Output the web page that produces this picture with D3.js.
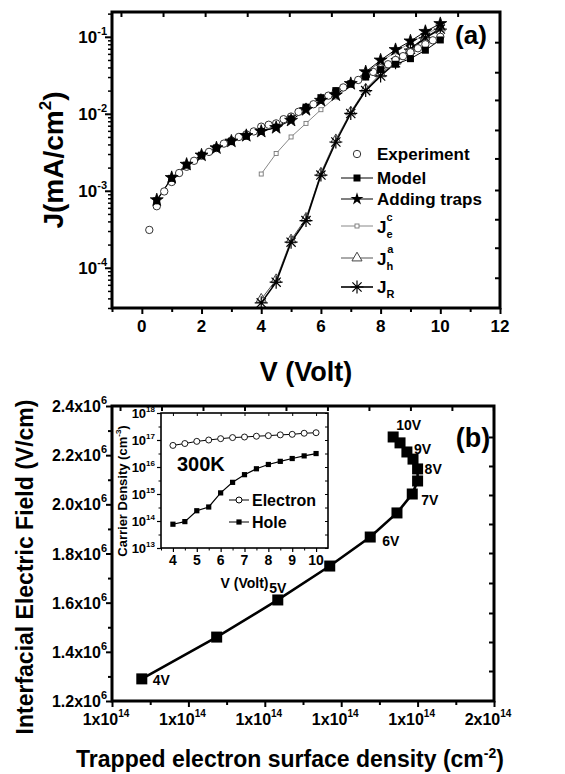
<!DOCTYPE html>
<html><head><meta charset="utf-8">
<script src="https://cdn.jsdelivr.net/npm/d3@7/dist/d3.min.js"></script>
<style>
body{margin:0;background:#fff}
svg{display:block}
text{font-family:"Liberation Sans",Arial,Helvetica,sans-serif;font-weight:bold;fill:#000}
</style></head><body>
<svg id="chart" width="565" height="774"></svg>
<script>
// ---------------- Panel (a) data ----------------
const vExp = [0.25,0.5,0.75,1,1.25,1.5,1.75,2,2.25,2.5,2.75,3,3.25,3.5,3.75,4,4.25,4.5,4.75,5,5.25,5.5,5.75,6,6.25,6.5,6.75,7,7.25,7.5,7.75,8,8.25,8.5,8.75,9,9.25,9.5,9.75,10];
const jExp = [3.1e-4,6.3e-4,9.8e-4,1.3e-3,1.7e-3,2.05e-3,2.45e-3,2.85e-3,3.2e-3,3.6e-3,4.1e-3,4.5e-3,5.0e-3,5.4e-3,5.9e-3,6.8e-3,7.2e-3,7.5e-3,8.5e-3,9.2e-3,1.06e-2,1.2e-2,1.33e-2,1.52e-2,1.72e-2,1.95e-2,2.2e-2,2.45e-2,2.75e-2,3.1e-2,3.5e-2,3.9e-2,4.4e-2,5.0e-2,5.6e-2,6.3e-2,7.1e-2,8.0e-2,9.0e-2,1.0e-1];
const vHalf = [0.5,1,1.5,2,2.5,3,3.5,4,4.5,5,5.5,6,6.5,7,7.5,8,8.5,9,9.5,10];
const jModel = [7.4e-4,1.45e-3,2.15e-3,2.9e-3,3.6e-3,4.35e-3,5.1e-3,5.9e-3,6.7e-3,8.6e-3,1.22e-2,1.62e-2,2.0e-2,2.45e-2,3.0e-2,3.75e-2,4.4e-2,5.2e-2,6.7e-2,9.1e-2];
const jTraps = [7.6e-4,1.48e-3,2.2e-3,2.9e-3,3.6e-3,4.4e-3,5.2e-3,5.9e-3,6.6e-3,8.2e-3,1.13e-2,1.49e-2,1.75e-2,2.46e-2,3.5e-2,4.97e-2,6.8e-2,8.8e-2,1.17e-1,1.48e-1];
const vHigh = [4,4.5,5,5.5,6,6.5,7,7.5,8,8.5,9,9.5,10];
const jEc = [1.65e-3,3.05e-3,5.0e-3,7.5e-3,1.13e-2,1.65e-2,2.34e-2,3.39e-2,4.72e-2,6.37e-2,8.35e-2,1.07e-1,1.35e-1];
const jHa = [3.9e-5,7.0e-5,2.3e-4,4.4e-4,1.7e-3,4.6e-3,1.06e-2,2.1e-2,3.3e-2,4.8e-2,7.1e-2,9.9e-2,1.3e-1];
const jR  = [3.5e-5,6.5e-5,2.15e-4,4.1e-4,1.6e-3,4.3e-3,1.01e-2,2.0e-2,3.1e-2,4.6e-2,6.9e-2,9.7e-2,1.26e-1];
const aXTicks = [0,2,4,6,8,10,12];
const aXTickLabels = ["0","2","4","6","8","10","12"];
const aXMinor = [-1,1,3,5,7,9,11];
const aYTicks = [1e-4,1e-3,1e-2,1e-1];
const aYTickSup = ["-4","-3","-2","-1"];
const aTopTicks = [-0.7,0.71,2.12,3.53,4.94,6.35,7.76,9.17,10.58];
const aRightTickExp = [-1.07,-1.46,-1.82,-2.21,-2.58,-2.99,-3.37,-3.74,-4.13];
const aLegend = ["Experiment","Model","Adding traps","J_e^c","J_h^a","J_R"];

// ---------------- Panel (b) data ----------------
const bVolt = [4,4.5,5,5.5,6,6.5,7,7.5,8,8.5,9,9.5,10];
const bDensity = [1.039,1.137,1.217,1.285,1.338,1.373,1.393,1.4,1.4,1.394,1.386,1.377,1.368]; // x1e14 cm^-2
const bField = [1.29,1.46,1.611,1.749,1.867,1.965,2.042,2.095,2.144,2.184,2.213,2.25,2.274]; // x1e6 V/cm
const bPointLabels = ["4V","5V","6V","7V","8V","9V","10V"];
const bXTicks = [1.0,1.1,1.2,1.3,1.4,1.5];
const bXTickBase = ["1x10","1x10","1x10","1x10","1x10","2x10"];
const bXMinor = [1.05,1.15,1.25,1.35,1.45];
const bYTicks = [1.2,1.4,1.6,1.8,2.0,2.2,2.4];
const bYTickBase = ["1.2x10","1.4x10","1.6x10","1.8x10","2.0x10","2.2x10","2.4x10"];
const bYMinor = [1.3,1.5,1.7,1.9,2.1,2.3];
const bTopTicks = [1.0105,1.0648,1.1191,1.1734,1.2277,1.282,1.3363,1.3906,1.4449,1.4992];
const bRightTicks = [2.274,2.156,2.038,1.92,1.802,1.68,1.558,1.44,1.322];

// ---------------- Inset data ----------------
const inV = [4,4.5,5,5.5,6,6.5,7,7.5,8,8.5,9,9.5,10];
const inElectron = [6.3e16,7.4e16,8.9e16,1.0e17,1.12e17,1.23e17,1.29e17,1.38e17,1.45e17,1.55e17,1.62e17,1.78e17,1.86e17];
const inHole = [7.6e13,9.5e13,2.4e14,3.3e14,1.1e15,2.7e15,5.2e15,8.6e15,1.24e16,1.62e16,2.06e16,2.58e16,3.15e16];
const inXTicks = [4,5,6,7,8,9,10];
const inXMinor = [3.5,4.5,5.5,6.5,7.5,8.5,9.5];
const inYTicks = [1e13,1e14,1e15,1e16,1e17,1e18];
const inYTickSup = ["13","14","15","16","17","18"];
const inYHalf = [3.16e13,3.16e14,3.16e15,3.16e16,3.16e17];

const svg = d3.select("#chart");

function ticks(gen, scale, vals, size, tx, ty, w){
  const g = svg.append("g").attr("transform",`translate(${tx},${ty})`)
    .call(gen(scale).tickValues(vals).tickSize(size).tickFormat(""));
  g.select(".domain").remove();
  g.selectAll("line").attr("stroke","#000").attr("stroke-width",w);
  return g;
}
function supText(x,y,base,sup,fs,ss,anchor,rise){
  const t = svg.append("text").attr("x",x).attr("y",y).attr("text-anchor",anchor).style("font-size",fs+"px");
  t.append("tspan").text(base);
  t.append("tspan").attr("dy",-rise).style("font-size",ss+"px").text(sup);
  return t;
}
function asterisk(r){
  const a = r*Math.SQRT1_2;
  return `M${-r},0L${r},0M0,${-r}L0,${r}M${-a},${-a}L${a},${a}M${-a},${a}L${a},${-a}`;
}

// ================= PANEL (a) =================
const A = {l:112,r:500,t:12,b:308};
const ax = d3.scaleLinear().domain([-1,12]).range([A.l,A.r]);
const ay = d3.scaleLog().domain([3.0e-5,0.21]).range([A.b,A.t]);

ticks(d3.axisBottom, ax, aXTicks, 6, 0, A.b, 2);
ticks(d3.axisBottom, ax, aXMinor, 4, 0, A.b, 2);
ticks(d3.axisTop, ax, aTopTicks, -5, 0, A.t, 2);
ticks(d3.axisLeft, ay, aYTicks, 7, A.l, 0, 2);
ticks(d3.axisLeft, ay, ay.ticks().filter(v=>!aYTicks.includes(v)), 4, A.l, 0, 1.5);
ticks(d3.axisRight, ay, aRightTickExp.map(e=>Math.pow(10,e)), -5, A.r, 0, 2);

aXTicks.forEach((v,i)=>svg.append("text").attr("x",ax(v)).attr("y",A.b+24).attr("text-anchor","middle").style("font-size","17px").text(aXTickLabels[i]));
aYTicks.forEach((v,i)=>supText(A.l-5,ay(v)+6,"10",aYTickSup[i],17,11,"end",8));

const lineA = (xs,ys)=>d3.line().x((d,i)=>ax(xs[i])).y(d=>ay(d))(ys);
const gA = svg.append("g");
gA.append("path").attr("d",lineA(vHigh,jEc)).attr("fill","none").attr("stroke","#888").attr("stroke-width",1);
gA.append("path").attr("d",lineA(vHigh,jHa)).attr("fill","none").attr("stroke","#555").attr("stroke-width",1);
gA.append("path").attr("d",lineA(vHigh,jR)).attr("fill","none").attr("stroke","#000").attr("stroke-width",1.6);
gA.append("path").attr("d",lineA(vHalf,jModel)).attr("fill","none").attr("stroke","#000").attr("stroke-width",1);
gA.append("path").attr("d",lineA(vHalf,jTraps)).attr("fill","none").attr("stroke","#000").attr("stroke-width",1);

const triPath = d3.symbol().type(d3.symbolTriangle).size(44)();
const starPath = d3.symbol().type(d3.symbolStar).size(52)();
gA.selectAll(".ec").data(jEc).join("rect").attr("x",(d,i)=>ax(vHigh[i])-2).attr("y",d=>ay(d)-2).attr("width",4).attr("height",4).attr("fill","#fff").attr("stroke","#777").attr("stroke-width",0.9);
gA.selectAll(".ha").data(jHa).join("path").attr("d",triPath).attr("transform",(d,i)=>`translate(${ax(vHigh[i])},${ay(d)})`).attr("fill","none").attr("stroke","#444").attr("stroke-width",1);
gA.selectAll(".jr").data(jR).join("path").attr("d",asterisk(6.5)).attr("transform",(d,i)=>`translate(${ax(vHigh[i])},${ay(d)})`).attr("fill","none").attr("stroke","#000").attr("stroke-width",1.2);
gA.selectAll(".ex").data(jExp).join("circle").attr("cx",(d,i)=>ax(vExp[i])).attr("cy",d=>ay(d)).attr("r",3.7).attr("fill","#fff").attr("stroke","#333").attr("stroke-width",1);
gA.selectAll(".md").data(jModel).join("rect").attr("x",(d,i)=>ax(vHalf[i])-3.5).attr("y",d=>ay(d)-3.5).attr("width",7).attr("height",7).attr("fill","#000");
gA.selectAll(".tr").data(jTraps).join("path").attr("d",starPath).attr("transform",(d,i)=>`translate(${ax(vHalf[i])},${ay(d)})`).attr("fill","#000").attr("stroke","#000").attr("stroke-width",0.8);

svg.append("rect").attr("x",A.l).attr("y",A.t).attr("width",A.r-A.l).attr("height",A.b-A.t).attr("fill","none").attr("stroke","#000").attr("stroke-width",3);

// legend (a)
const legY = [154,178,199,226,258,287];
const legBase = [160,184,205,233,265,293];
const lx0 = 341, lx1 = 373, lxm = 357, ltx = 377;
[[1,"#000"],[2,"#000"],[3,"#888"],[4,"#555"],[5,"#000"]].forEach(([k,c])=>{
  svg.append("line").attr("x1",lx0).attr("x2",lx1).attr("y1",legY[k]).attr("y2",legY[k]).attr("stroke",c).attr("stroke-width",k===5?1.6:1);
});
svg.append("circle").attr("cx",lxm).attr("cy",legY[0]).attr("r",3.7).attr("fill","#fff").attr("stroke","#333");
svg.append("rect").attr("x",lxm-3.5).attr("y",legY[1]-3.5).attr("width",7).attr("height",7).attr("fill","#000");
svg.append("path").attr("d",starPath).attr("transform",`translate(${lxm},${legY[2]})`).attr("fill","#000");
svg.append("rect").attr("x",lxm-2).attr("y",legY[3]-2).attr("width",4).attr("height",4).attr("fill","#fff").attr("stroke","#777").attr("stroke-width",0.9);
svg.append("path").attr("d",triPath).attr("transform",`translate(${lxm},${legY[4]})`).attr("fill","#fff").attr("stroke","#444");
svg.append("path").attr("d",asterisk(6.5)).attr("transform",`translate(${lxm},${legY[5]})`).attr("fill","none").attr("stroke","#000").attr("stroke-width",1.2);
aLegend.forEach((s,i)=>{
  const t = svg.append("text").attr("x",ltx).attr("y",legBase[i]).style("font-size","17px");
  const m = s.match(/^J_(\w)(?:\^(\w))?$/);
  if(!m){ t.text(s); return; }
  t.append("tspan").text("J");
  t.append("tspan").attr("dy",5).style("font-size","11px").text(m[1]);
  if(m[2]) t.append("tspan").attr("dx",-6).attr("dy",-17).style("font-size","11px").text(m[2]);
});

svg.append("text").attr("x",471).attr("y",44).attr("text-anchor","middle").style("font-size","26px").text("(a)");
svg.append("text").attr("x",(A.l+A.r)/2).attr("y",381).attr("text-anchor","middle").style("font-size","27px").text("V (Volt)");
{
  const t = svg.append("text").attr("transform","translate(63,160) rotate(-90)").attr("text-anchor","middle").style("font-size","28px");
  t.append("tspan").text("J(mA/cm");
  t.append("tspan").attr("dy",-12).style("font-size","17px").text("2");
  t.append("tspan").attr("dy",12).text(")");
}

// ================= PANEL (b) =================
const B = {l:112,r:494,t:406,b:701};
const bx = d3.scaleLinear().domain([1.0,1.5]).range([B.l,B.r]);
const by = d3.scaleLinear().domain([1.2,2.4]).range([B.b,B.t]);

ticks(d3.axisBottom, bx, bXTicks, 6, 0, B.b, 2);
ticks(d3.axisBottom, bx, bXMinor, 4, 0, B.b, 2);
ticks(d3.axisTop, bx, bTopTicks, -5, 0, B.t, 2);
ticks(d3.axisLeft, by, bYTicks, 6, B.l, 0, 2);
ticks(d3.axisLeft, by, bYMinor, 4, B.l, 0, 2);
ticks(d3.axisRight, by, bRightTicks, -5, B.r, 0, 2);

bXTicks.forEach((v,i)=>supText(bx(v)-6,B.b+24,bXTickBase[i],"14",16,10,"middle",8));
bYTicks.forEach((v,i)=>supText(B.l-5,by(v)+6,bYTickBase[i],"6",16,11,"end",8));

// ---- inset ----
const I = {l:161,r:328,t:413,b:548};
const ix = d3.scaleLinear().domain([3.5,10.5]).range([I.l,I.r]);
const iy = d3.scaleLog().domain([1e13,1e18]).range([I.b,I.t]);
ticks(d3.axisBottom, ix, inXTicks, 4, 0, I.b, 1.2);
ticks(d3.axisBottom, ix, inXMinor, 2.5, 0, I.b, 1);
ticks(d3.axisTop, ix, inXTicks, -3, 0, I.t, 1);
ticks(d3.axisLeft, iy, inYTicks, 4, I.l, 0, 1.2);
ticks(d3.axisLeft, iy, inYHalf, 2.5, I.l, 0, 1);
ticks(d3.axisRight, iy, inYHalf.concat(inYTicks), -3, I.r, 0, 1);
svg.append("rect").attr("x",I.l).attr("y",I.t).attr("width",I.r-I.l).attr("height",I.b-I.t).attr("fill","none").attr("stroke","#000").attr("stroke-width",1.6);
inXTicks.forEach(v=>svg.append("text").attr("x",ix(v)).attr("y",I.b+17).attr("text-anchor","middle").style("font-size","14px").text(String(v)));
inYTicks.forEach((v,i)=>supText(I.l-6,iy(v)+5,"10",inYTickSup[i],13,8,"end",6));
svg.append("text").attr("x",(I.l+I.r)/2).attr("y",588).attr("text-anchor","middle").style("font-size","14px").text("V (Volt)");
{
  const t = svg.append("text").attr("transform","translate(127,491) rotate(-90)").attr("text-anchor","middle").style("font-size","13px");
  t.append("tspan").text("Carrier Density (cm");
  t.append("tspan").attr("dy",-6).style("font-size","8px").text("-3");
  t.append("tspan").attr("dy",6).text(")");
}
const lineI = ys=>d3.line().x((d,i)=>ix(inV[i])).y(d=>iy(d))(ys);
svg.append("path").attr("d",lineI(inElectron)).attr("fill","none").attr("stroke","#000").attr("stroke-width",1);
svg.append("path").attr("d",lineI(inHole)).attr("fill","none").attr("stroke","#000").attr("stroke-width",1.2);
svg.selectAll(".ie").data(inElectron).join("circle").attr("cx",(d,i)=>ix(inV[i])).attr("cy",d=>iy(d)).attr("r",3).attr("fill","#fff").attr("stroke","#000").attr("stroke-width",0.9);
svg.selectAll(".ih").data(inHole).join("rect").attr("x",(d,i)=>ix(inV[i])-2.6).attr("y",d=>iy(d)-2.6).attr("width",5.2).attr("height",5.2).attr("fill","#000");
svg.append("text").attr("x",177).attr("y",471).style("font-size","20px").text("300K");
svg.append("line").attr("x1",229).attr("x2",249).attr("y1",500).attr("y2",500).attr("stroke","#000");
svg.append("circle").attr("cx",239).attr("cy",500).attr("r",3).attr("fill","#fff").attr("stroke","#000");
svg.append("text").attr("x",252).attr("y",506).style("font-size","16px").text("Electron");
svg.append("line").attr("x1",229).attr("x2",249).attr("y1",522).attr("y2",522).attr("stroke","#000");
svg.append("rect").attr("x",236.4).attr("y",519.4).attr("width",5.2).attr("height",5.2).attr("fill","#000");
svg.append("text").attr("x",252).attr("y",528).style("font-size","16px").text("Hole");

// ---- main curve ----
svg.append("path").attr("d",d3.line().x((d,i)=>bx(bDensity[i])).y(d=>by(d))(bField)).attr("fill","none").attr("stroke","#000").attr("stroke-width",2.6);
svg.selectAll(".bp").data(bField).join("rect").attr("x",(d,i)=>bx(bDensity[i])-5.5).attr("y",d=>by(d)-5.5).attr("width",11).attr("height",11).attr("fill","#000");
const lblOff = {"4V":[11,6,"start"],"5V":[0,-7,"middle"],"6V":[12,9,"start"],"7V":[9,11,"start"],"8V":[7,5,"start"],"9V":[7,2,"start"],"10V":[3,-7,"start"]};
bPointLabels.forEach(s=>{
  const v = parseFloat(s); const i = bVolt.indexOf(v); const o = lblOff[s];
  svg.append("text").attr("x",bx(bDensity[i])+o[0]).attr("y",by(bField[i])+o[1]).attr("text-anchor",o[2]).style("font-size","14px").text(s);
});

svg.append("rect").attr("x",B.l).attr("y",B.t).attr("width",B.r-B.l).attr("height",B.b-B.t).attr("fill","none").attr("stroke","#000").attr("stroke-width",3);
svg.append("text").attr("x",473).attr("y",447).attr("text-anchor","middle").style("font-size","27px").text("(b)");

{
  const t = svg.append("text").attr("x",290).attr("y",767).attr("text-anchor","middle").style("font-size","23px");
  t.append("tspan").text("Trapped electron surface density (cm");
  t.append("tspan").attr("dy",-9).style("font-size","14px").text("-2");
  t.append("tspan").attr("dy",9).text(")");
}
svg.append("text").attr("transform","translate(33,567) rotate(-90)").attr("text-anchor","middle").style("font-size","23px").text("Interfacial Electric Field (V/cm)");
</script></body></html>
